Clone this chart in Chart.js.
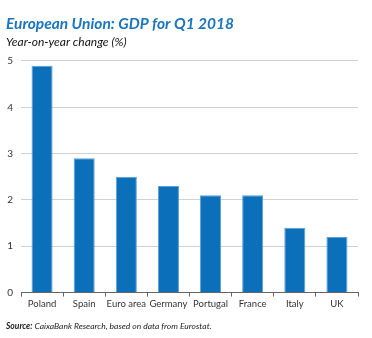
<!DOCTYPE html>
<html>
<head>
<meta charset="utf-8">
<script src="https://cdn.jsdelivr.net/npm/chart.js@4"></script>
<style>
  body { margin: 0; background: #fff; }
</style>
</head>
<body>
<canvas id="Chart1" width="372" height="338"></canvas>
<script>
const countries = ['Poland', 'Spain', 'Euro area', 'Germany', 'Portugal', 'France', 'Italy', 'UK'];
const gdpGrowth = [4.9, 2.9, 2.5, 2.3, 2.1, 2.1, 1.4, 1.2];
const yTicks = [0, 1, 2, 3, 4, 5];

const titleText = 'European Union: GDP for Q1 2018';
const subtitleText = 'Year-on-year change (%)';
const sourceLabel = 'Source:';
const sourceText = ' CaixaBank Research, based on data from Eurostat.';

// source line under the chart
const sourcePlugin = {
  id: 'sourceNote',
  afterDraw(chart) {
    const c = chart.ctx;
    c.save();
    c.fillStyle = '#222';
    c.textBaseline = 'middle';
    c.font = 'italic bold 8.5px Lato';
    c.fillText(sourceLabel, 6, 326);
    let w = c.measureText(sourceLabel).width;
    c.font = 'italic 8.5px Lato';
    c.fillText(sourceText, 6 + w, 326);
    c.restore();
  }
};

var ctx = document.getElementById('Chart1').getContext('2d');
const config = {
  type: 'bar',
  data: {
    labels: countries,
    datasets: [{
      data: gdpGrowth,
      backgroundColor: '#0b6fba',
      borderColor: '#5a9fd6',
      borderWidth: 1,
      categoryPercentage: 1,
      barPercentage: 0.5
    }]
  },
  options: {
    responsive: false,
    maintainAspectRatio: false,
    animation: false,
    layout: {
      padding: { left: 6, right: 14, top: 15, bottom: 26 }
    },
    plugins: {
      legend: { display: false },
      tooltip: { enabled: false },
      title: {
        display: true,
        text: titleText,
        align: 'start',
        color: '#1b75bc',
        font: { family: 'Lato', size: 15.5, weight: 'bold', style: 'italic' },
        padding: { top: 0, bottom: 1 }
      },
      subtitle: {
        display: true,
        text: subtitleText,
        align: 'start',
        color: '#111',
        font: { family: 'Lato', size: 12, style: 'italic' },
        padding: { top: 0, bottom: 12 }
      }
    },
    scales: {
      y: {
        min: 0,
        max: 5,
        afterBuildTicks: (axis) => { axis.ticks = yTicks.map(v => ({ value: v })); },
        afterFit: (axis) => { axis.width = 15; },
        ticks: {
          color: '#333',
          font: { family: 'Lato', size: 10 },
          padding: 8
        },
        grid: {
          color: '#d0d0d0',
          drawTicks: false
        },
        border: { display: false }
      },
      x: {
        afterFit: (axis) => { axis.paddingLeft = 0; axis.paddingRight = 0; },
        ticks: {
          color: '#333',
          font: { family: 'Lato', size: 9.5 },
          padding: 2,
          maxRotation: 0,
          autoSkip: false
        },
        grid: {
          offset: true,
          drawOnChartArea: false,
          color: '#666',
          tickLength: 4
        },
        border: { display: true, color: '#666', width: 1 }
      }
    }
  },
  plugins: [sourcePlugin]
};
var myChart1 = new Chart(ctx, config);
</script>
</body>
</html>
